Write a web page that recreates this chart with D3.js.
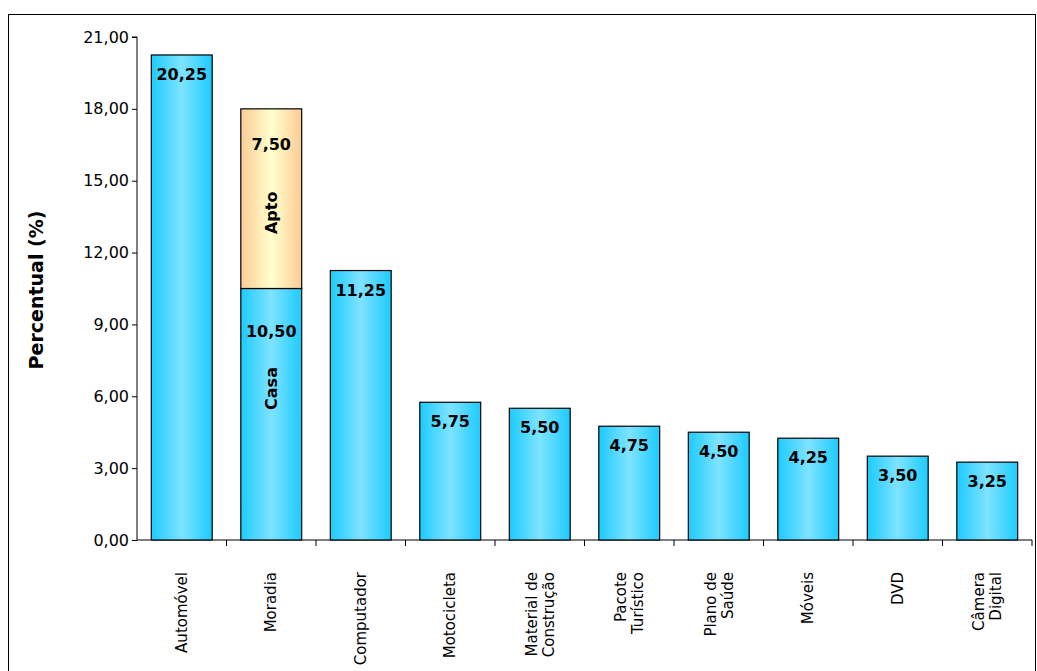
<!DOCTYPE html>
<html><head><meta charset="utf-8">
<script src="https://d3js.org/d3.v7.min.js"></script>
<style>body{margin:0;background:#fff}text{font-family:Tahoma,"DejaVu Sans",sans-serif}</style>
</head><body>
<svg id="c" width="1037" height="671"></svg>
<script>
var categories=["Automóvel","Moradia","Computador","Motocicleta","Material de|Construção","Pacote|Turístico","Plano de|Saúde","Móveis","DVD","Câmera|Digital"];
var baseValues=[20.25,10.50,11.25,5.75,5.50,4.75,4.50,4.25,3.50,3.25];
var aptoValues=[0,7.50,0,0,0,0,0,0,0,0];
var yTicks=[0,3,6,9,12,15,18,21];

var svg=d3.select("#c");
svg.append("rect").attr("x",8.5).attr("y",14.5).attr("width",1027).attr("height",660).attr("fill","none").attr("stroke","#000");

var defs=svg.append("defs");
function grad(id,c1,c2){
  var g=defs.append("linearGradient").attr("id",id);
  g.append("stop").attr("offset","0%").attr("stop-color",c1);
  g.append("stop").attr("offset","50%").attr("stop-color",c2);
  g.append("stop").attr("offset","100%").attr("stop-color",c1);
}
grad("gb","#1ccbff","#7fe3ff");
grad("go","#fdcc96","#ffffcc");

var x=d3.scaleBand().domain(categories).range([137,1032]).paddingInner(0.32).paddingOuter(0.16);
var y=d3.scaleLinear().domain([0,21]).range([540,37]);

var ya=svg.append("g").attr("transform","translate(137,0)")
  .call(d3.axisLeft(y).tickValues(yTicks).tickSize(5).tickFormat(function(d){return d3.format(".2f")(d).replace(".",",");}));
ya.selectAll("text").attr("font-size",16).attr("fill","#000");
ya.select(".domain").attr("d","M-5,"+y(21)+"H0V540");

var step=x.step();
var xa=svg.append("g").attr("transform","translate(0,540)");
xa.append("line").attr("x1",137).attr("x2",1032).attr("stroke","#000");
categories.forEach(function(c,i){
  var tx=137+step*(i+1);
  xa.append("line").attr("x1",tx).attr("x2",tx).attr("y1",0).attr("y2",6).attr("stroke","#000");
});

var fmt=function(v){return d3.format(".2f")(v).replace(".",",");};

categories.forEach(function(c,i){
  var bx=x(c),bw=x.bandwidth();
  svg.append("rect").attr("x",bx).attr("y",y(baseValues[i])).attr("width",bw).attr("height",y(0)-y(baseValues[i]))
    .attr("fill","url(#gb)").attr("stroke","#000").attr("stroke-width",1.2);
  if(aptoValues[i]>0){
    var top=baseValues[i]+aptoValues[i];
    svg.append("rect").attr("x",bx).attr("y",y(top)).attr("width",bw).attr("height",y(baseValues[i])-y(top))
      .attr("fill","url(#go)").attr("stroke","#000").attr("stroke-width",1.2);
    svg.append("text").attr("x",bx+bw/2).attr("y",y(top)+41).attr("text-anchor","middle").attr("font-size",16).attr("font-weight","bold").text(fmt(aptoValues[i]));
    svg.append("text").attr("transform","translate("+(bx+bw/2+6)+","+(y(top)+104)+") rotate(-90)").attr("text-anchor","middle").attr("font-size",16).attr("font-weight","bold").text("Apto");
    svg.append("text").attr("x",bx+bw/2).attr("y",y(baseValues[i])+48).attr("text-anchor","middle").attr("font-size",16).attr("font-weight","bold").text(fmt(baseValues[i]));
    svg.append("text").attr("transform","translate("+(bx+bw/2+6)+","+(y(baseValues[i])+100)+") rotate(-90)").attr("text-anchor","middle").attr("font-size",16).attr("font-weight","bold").text("Casa");
  } else {
    svg.append("text").attr("x",bx+bw/2).attr("y",y(baseValues[i])+25).attr("text-anchor","middle").attr("font-size",16).attr("font-weight","bold").text(fmt(baseValues[i]));
  }
  var lines=c.split("|");
  var cx=x(c)+bw/2;
  var t=svg.append("text").attr("transform","translate("+cx+",572) rotate(-90)").attr("text-anchor","end").attr("font-size",15);
  lines.forEach(function(l,j){
    t.append("tspan").attr("x",0).attr("dy",j==0?(lines.length==1?5:-3):17).text(l);
  });
});

svg.append("text").attr("transform","translate(43,290) rotate(-90)").attr("text-anchor","middle").attr("font-size",19).attr("font-weight","bold").text("Percentual (%)");
</script>
</body></html>
